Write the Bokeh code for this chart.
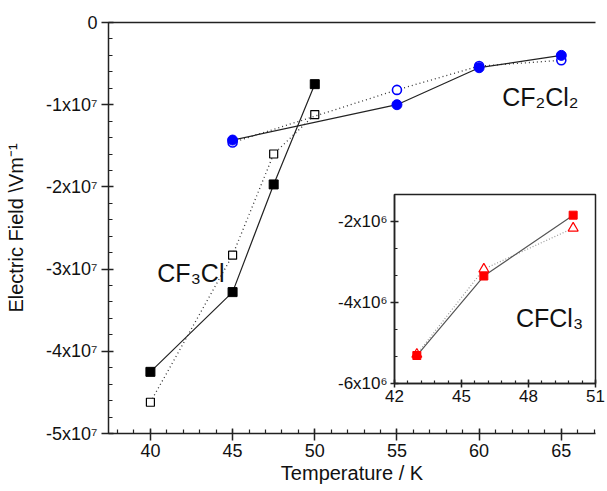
from bokeh.plotting import figure
from bokeh.models import SingleIntervalTicker, FixedTicker, LinearAxis, Label
from bokeh.layouts import column
from bokeh.embed import file_html
from bokeh.resources import INLINE

# ---- data -------------------------------------------------------------
cf3cl_temps = [40, 45, 47.5, 50]
cf3cl_filled = [-4.25e7, -3.28e7, -1.97e7, -0.75e7]
cf3cl_open = [-4.62e7, -2.83e7, -1.60e7, -1.12e7]

cf2cl2_temps = [45, 55, 60, 65]
cf2cl2_filled = [-1.43e7, -1.00e7, -0.55e7, -0.40e7]
cf2cl2_open = [-1.46e7, -0.82e7, -0.53e7, -0.46e7]

cfcl3_temps = [43, 46, 50]
cfcl3_filled = [-5.31e6, -3.35e6, -1.85e6]
cfcl3_open = [-5.28e6, -3.18e6, -2.17e6]

main_y_ticks = [-5e7, -4e7, -3e7, -2e7, -1e7, 0]
main_y_labels = ["-5x10\u2077", "-4x10\u2077", "-3x10\u2077", "-2x10\u2077", "-1x10\u2077", "0"]
inset_y_ticks = [-6e6, -4e6, -2e6]
inset_y_labels = ["-6x10\u2076", "-4x10\u2076", "-2x10\u2076"]

FONT = "Liberation Sans"
AXIS_COLOR = "#222222"


def style_axis(ax, tick_size="18px"):
    ax.axis_line_color = AXIS_COLOR
    ax.axis_line_width = 1.5
    ax.major_tick_line_color = AXIS_COLOR
    ax.major_tick_line_width = 1.5
    ax.minor_tick_line_color = AXIS_COLOR
    ax.minor_tick_line_width = 1.2
    ax.major_label_text_font = FONT
    ax.major_label_text_font_size = tick_size
    ax.major_label_text_color = "#111111"
    ax.axis_label_text_font = FONT
    ax.axis_label_text_font_style = "normal"
    ax.axis_label_text_color = "#111111"


# ---- main plot ----------------------------------------------------------
p = figure(width=607, height=491, x_range=(37.45, 67.08), y_range=(-5e7, 0),
           output_backend="svg", toolbar_location=None,
           min_border_left=108, min_border_right=0, min_border_top=22,
           min_border_bottom=58)
p.outline_line_color = None
p.xgrid.visible = False
p.ygrid.visible = False
p.background_fill_color = "white"

xa = p.xaxis[0]
xa.ticker = SingleIntervalTicker(interval=5, num_minor_ticks=5)
style_axis(xa)
xa.major_tick_in = 5
xa.major_tick_out = 7
xa.minor_tick_in = 4
xa.minor_tick_out = 0
xa.major_label_standoff = 3
xa.axis_label = "Temperature / K"
xa.axis_label_text_font_size = "20px"
xa.axis_label_standoff = 2

ya = p.yaxis[0]
ya.ticker = SingleIntervalTicker(interval=1e7, num_minor_ticks=5)
style_axis(ya)
ya.major_tick_in = 5
ya.major_tick_out = 7
ya.minor_tick_in = 4
ya.minor_tick_out = 0
ya.major_label_standoff = 4
ya.major_label_overrides = {t: s for t, s in zip(main_y_ticks, main_y_labels)}
ya.axis_label = "Electric Field \\Vm\u207b\u00b9"
ya.axis_label_text_font_size = "20px"
ya.axis_label_standoff = 16

top = LinearAxis(ticker=FixedTicker(ticks=[]), major_tick_in=0, major_tick_out=0,
                 minor_tick_in=0, minor_tick_out=0,
                 major_label_text_font_size="0px",
                 axis_line_color=AXIS_COLOR, axis_line_width=1.5)
p.add_layout(top, "above")

# CF3Cl
p.line(cf3cl_temps, cf3cl_open, line_color="#333333", line_width=1.3, line_dash="1 3")
p.line(cf3cl_temps, cf3cl_filled, line_color="#222222", line_width=1.2)
p.scatter(cf3cl_temps, cf3cl_open, marker="square", size=8, fill_color="white",
          line_color="black", line_width=1.2)
p.scatter(cf3cl_temps, cf3cl_filled, marker="square", size=9, fill_color="black",
          line_color="black")

# CF2Cl2
p.line(cf2cl2_temps, cf2cl2_open, line_color="#333333", line_width=1.3, line_dash="1 3")
p.line(cf2cl2_temps, cf2cl2_filled, line_color="#222222", line_width=1.2)
p.scatter(cf2cl2_temps, cf2cl2_open, marker="circle", size=9, fill_color="white",
          line_color="#0000ff", line_width=1.6)
p.scatter(cf2cl2_temps, cf2cl2_filled, marker="circle", size=10, fill_color="#0000ff",
          line_color="#0000ff")

p.add_layout(Label(x=40.42, y=-3.05e7, text="CF\u2083Cl", text_font=FONT,
                   text_font_size="25px", text_color="#111111",
                   text_baseline="alphabetic"))
p.add_layout(Label(x=61.4, y=-0.91e7, text="CF\u2082Cl\u2082", text_font=FONT,
                   text_font_size="25px", text_color="#111111",
                   text_baseline="alphabetic"))

# ---- inset: CFCl3 -------------------------------------------------------
ins = figure(width=321, height=221, x_range=(42, 51), y_range=(-6e6, -1.34e6),
             output_backend="svg", toolbar_location=None,
             min_border_left=83, min_border_right=12, min_border_top=8,
             min_border_bottom=24, margin=(186 - 491, 0, 0, 286))
ins.xgrid.visible = False
ins.ygrid.visible = False
ins.background_fill_color = "white"
ins.border_fill_alpha = 0
ins.outline_line_color = AXIS_COLOR
ins.outline_line_width = 1.5

ixa = ins.xaxis[0]
ixa.ticker = SingleIntervalTicker(interval=3, num_minor_ticks=5)
style_axis(ixa, "17px")
ixa.major_tick_in = 4
ixa.major_tick_out = 4
ixa.minor_tick_in = 3
ixa.minor_tick_out = 0
ixa.major_label_standoff = 2

iya = ins.yaxis[0]
iya.ticker = SingleIntervalTicker(interval=2e6, num_minor_ticks=3)
style_axis(iya, "17px")
iya.major_tick_in = 4
iya.major_tick_out = 4
iya.minor_tick_in = 3
iya.minor_tick_out = 0
iya.major_label_standoff = 3
iya.major_label_overrides = {t: s for t, s in zip(inset_y_ticks, inset_y_labels)}

ins.line(cfcl3_temps, cfcl3_open, line_color="#999999", line_width=1.2, line_dash="1 2")
ins.line(cfcl3_temps, cfcl3_filled, line_color="#555555", line_width=1.2)
ins.scatter(cfcl3_temps, cfcl3_open, marker="triangle", size=10, fill_color="white",
            line_color="#ff0000", line_width=1.2)
ins.scatter(cfcl3_temps, cfcl3_filled, marker="square", size=8, fill_color="#ff0000",
            line_color="#ff0000")

ins.add_layout(Label(x=47.44, y=-4.38e6, text="CFCl\u2083", text_font=FONT,
                     text_font_size="25px", text_color="#111111",
                     text_baseline="alphabetic"))

layout = column(p, ins)
open("out.html", "w").write(file_html(layout, INLINE))
